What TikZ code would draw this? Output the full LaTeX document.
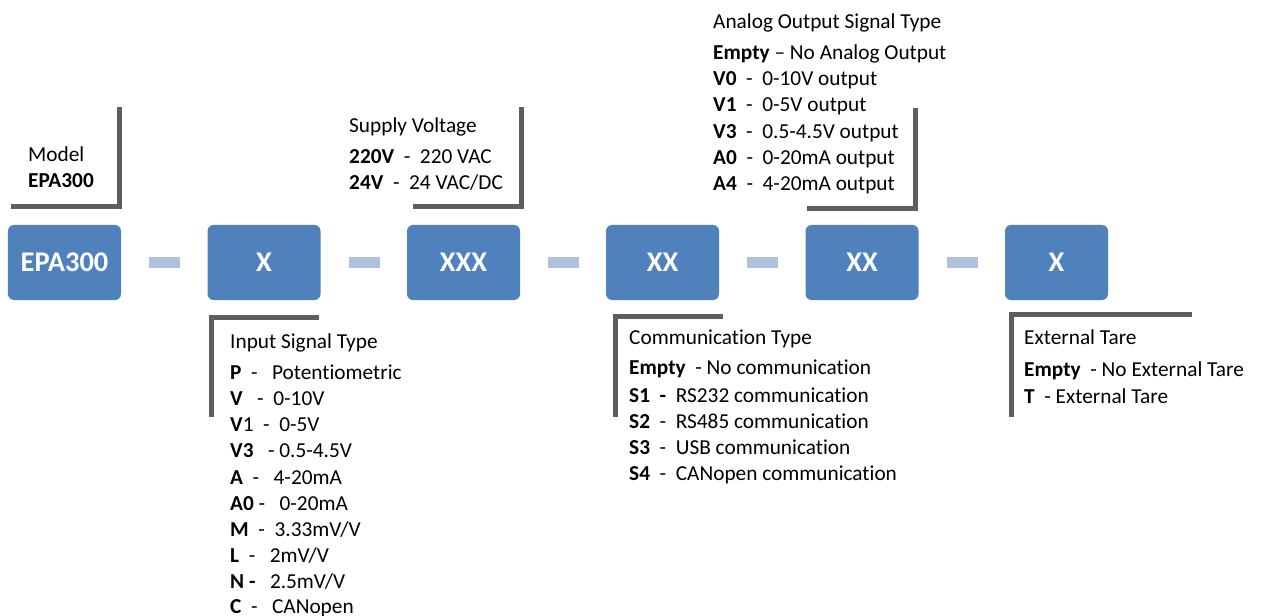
\documentclass[tikz,border=0pt]{standalone}
\usepackage{fontspec}
\setmainfont[Ligatures={TeX,NoCommon}]{Carlito}
\definecolor{boxblue}{HTML}{4F81BD}
\definecolor{dashblue}{HTML}{AFC1DC}
\definecolor{bracketgray}{HTML}{5E5E5E}
\tikzset{
  codebox/.style={fill=boxblue,rounded corners=6bp,minimum width=113bp,minimum height=75bp,inner sep=0pt,text=white,font=\fontsize{28.5bp}{34bp}\selectfont\bfseries},
  sepbar/.style={dashblue,line width=11bp,shorten <=28bp,shorten >=27bp},
  bracket/.style={bracketgray,line width=5bp,line join=miter},
  txt/.style={anchor=base west,inner sep=0pt,font=\fontsize{21.3bp}{26bp}\selectfont},
}
\begin{document}
\begin{tikzpicture}[x=1bp,y=-1bp]
  \useasboundingbox (0,0) rectangle (1261,616);
  \node[codebox](B1) at (64.5,262.5) {EPA300};
  \node[codebox](B2) at (264,262.5) {X};
  \node[codebox](B3) at (463.5,262.5) {XXX};
  \node[codebox](B4) at (662.5,262.5) {XX};
  \node[codebox](B5) at (862,262.5) {XX};
  \node[codebox,minimum width=103bp](B6) at (1056.5,262.5) {X};
  \foreach \x/\y in {B1/B2,B2/B3,B3/B4,B4/B5,B5/B6}{
    \draw[sepbar](\x)--(\y);
  }
  \draw[bracket](11,207)--(119,207)--(119,107);
  \draw[bracket](413,206.5)--(521,206.5)--(521,107);
  \draw[bracket](807,208.5)--(915,208.5)--(915,108);
  \draw[bracket](319,317.5)--(211,317.5)--(211,417);
  \draw[bracket](723,317)--(615,317)--(615,417);
  \draw[bracket](1192,315)--(1011,315)--(1011,417);
  \node[txt](Tmodel) at (28,162) {Model};
  \node[txt](Vmodel) at (28,188) {\textbf{EPA300}};
  \node[txt](Tsupply) at (349,133) {Supply Voltage};
  \foreach \y/\t [count=\i] in {164/{\textbf{220V}\ \ -\ \ 220 VAC},190/{\textbf{24V}\ \ -\ \ 24 VAC/DC}}{
    \node[txt](supply\i) at (349,\y) {\t};
  }
  \node[txt](Tout) at (713,29) {Analog Output Signal Type};
  \foreach \y/\t [count=\i] in {60/{\textbf{Empty} -- No Analog Output},
    86/{\textbf{V0}\ \ -\ \ 0-10V output},112/{\textbf{V1}\ \ -\ \ 0-5V output},
    139/{\textbf{V3}\ \ -\ \ 0.5-4.5V output},165/{\textbf{A0}\ \ -\ \ 0-20mA output},
    191/{\textbf{A4}\ \ -\ \ 4-20mA output}}{
    \node[txt](out\i) at (713,\y) {\t};
  }
  \node[txt](Tinput) at (230,349) {Input Signal Type};
  \foreach \y/\t [count=\i] in {379/{\textbf{P}\ \ -\ \ \ Potentiometric},
    405/{\textbf{V}\ \ \ -\ \ 0-10V},431/{\textbf{V}1\ \ -\ \ 0-5V},
    457/{\textbf{V3}\ \ \ -\ 0.5-4.5V},484/{\textbf{A}\ \ -\ \ \ 4-20mA},
    510/{\textbf{A0}\ -\ \ \ 0-20mA},536/{\textbf{M}\ \ -\ \ 3.33mV/V},
    562/{\textbf{L}\ \ -\ \ \ 2mV/V},588/{\textbf{N -}\ \ \ 2.5mV/V},
    613/{\textbf{C}\ \ -\ \ \ CANopen}}{
    \node[txt](input\i) at (230,\y) {\t};
  }
  \node[txt](Tcomm) at (629,345) {Communication Type};
  \foreach \y/\t [count=\i] in {375/{\textbf{Empty}\ \ - No communication},
    402/{\textbf{S1\ \ -}\ \ RS232 communication},428/{\textbf{S2}\ \ -\ \ RS485 communication},
    454/{\textbf{S3}\ \ -\ \ USB communication},480/{\textbf{S4}\ \ -\ \ CANopen communication}}{
    \node[txt](comm\i) at (629,\y) {\t};
  }
  \node[txt](Ttare) at (1024,345) {External Tare};
  \foreach \y/\t [count=\i] in {377/{\textbf{Empty}\ \ - No External Tare},403/{\textbf{T}\ \ - External Tare}}{
    \node[txt](tare\i) at (1024,\y) {\t};
  }
\end{tikzpicture}
\end{document}
